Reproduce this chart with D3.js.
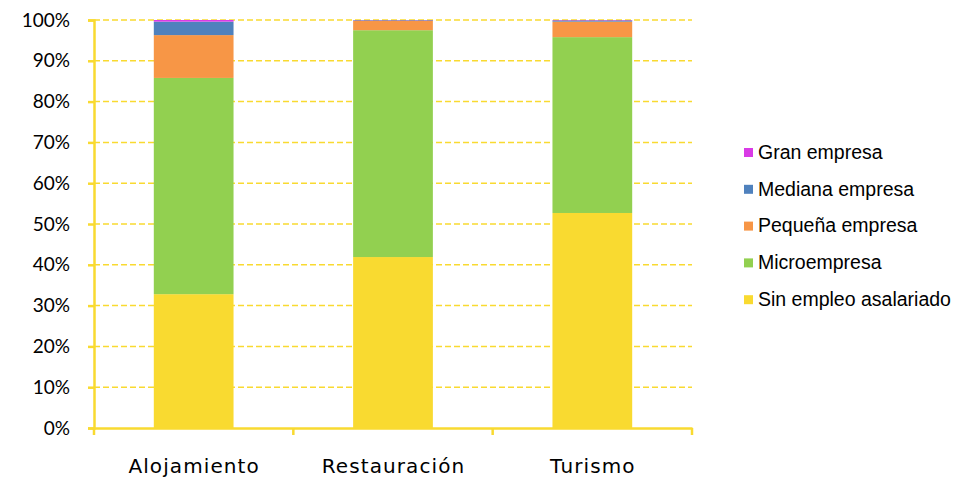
<!DOCTYPE html>
<meta charset="utf-8">
<script src="https://d3js.org/d3.v7.min.js"></script>
<style>
body { margin: 0; background: #fff; }
.tick text { font-family: Lato, "Open Sans", sans-serif; }
</style>
<div id="chart"></div>
<script>

// data (percent shares)
var categories = ["Alojamiento", "Restauración", "Turismo"];
var seriesNames = ["Sin empleo asalariado", "Microempresa", "Pequeña empresa", "Mediana empresa", "Gran empresa"];
var sinEmpleo   = [32.8, 41.9, 52.7];
var micro       = [53.0, 55.6, 43.1];
var pequena     = [10.5, 2.3, 3.8];
var mediana     = [3.3, 0.15, 0.3];
var gran        = [0.4, 0.05, 0.1];
var colors = ["#F9DA30", "#92D050", "#F79646", "#4F81BD", "#D93BE6"];
var yTicks = [0, 10, 20, 30, 40, 50, 60, 70, 80, 90, 100];

var seriesValues = [sinEmpleo, micro, pequena, mediana, gran];

var margin = {top: 20, right: 267, bottom: 49, left: 94},
    width = 959 - margin.left - margin.right,
    height = 477 - margin.top - margin.bottom;

var svg = d3.select("#chart")
  .append("svg")
    .attr("width", 959)
    .attr("height", 477)
  .append("g")
    .attr("transform", "translate(" + margin.left + "," + margin.top + ")");

var x = d3.scaleBand()
  .domain(categories)
  .range([0, width])
  .paddingInner(0.6)
  .paddingOuter(0.3);

var xOuter = d3.scaleBand().domain(categories).range([0, width]);

var y = d3.scaleLinear()
  .domain([0, 100])
  .range([height, 0]);

// gridlines
svg.append("g")
  .selectAll("line")
  .data(yTicks.filter(function(d){ return d > 0; }))
  .enter()
  .append("line")
    .attr("x1", 0)
    .attr("x2", width)
    .attr("y1", function(d){ return y(d); })
    .attr("y2", function(d){ return y(d); })
    .attr("stroke", "#F9DA30")
    .attr("stroke-width", 1.5)
    .attr("stroke-dasharray", "6,3");

// stack the rows
var rows = categories.map(function(c, i) {
  var r = {cat: c};
  seriesNames.forEach(function(s, j) { r[s] = seriesValues[j][i]; });
  return r;
});
var stacked = d3.stack().keys(seriesNames)(rows);

svg.append("g")
  .selectAll("g")
  .data(stacked)
  .enter()
  .append("g")
    .attr("fill", function(d, i){ return colors[i]; })
  .selectAll("rect")
  .data(function(d){ return d; })
  .enter()
  .append("rect")
    .attr("x", function(d){ return x(d.data.cat); })
    .attr("width", x.bandwidth())
    .attr("y", function(d){ return y(d[1]); })
    .attr("height", function(d){ return y(d[0]) - y(d[1]); });

// Y axis
var yAxis = svg.append("g")
  .call(d3.axisLeft(y).tickValues(yTicks).tickFormat(function(d){ return d + "%"; }).tickSize(6).tickPadding(18));
yAxis.select(".domain").attr("stroke", "#F9DA30").attr("stroke-width", 2.5);
yAxis.selectAll(".tick line").attr("stroke", "#F9DA30").attr("stroke-width", 2.5);
yAxis.selectAll(".tick text").attr("font-size", 19).attr("fill", "#000");

// X axis
var xAxis = svg.append("g")
  .attr("transform", "translate(0," + height + ")")
  .call(d3.axisBottom(xOuter).tickSize(0).tickPadding(31));
xAxis.select(".domain").attr("stroke", "#F9DA30").attr("stroke-width", 2.5);
xAxis.selectAll(".tick text")
  .style("font-family", "'DejaVu Sans', sans-serif")
  .attr("font-size", 20)
  .attr("fill", "#000")
  .attr("letter-spacing", "1.1px")
  .attr("dx", "0.5px");

// category boundary ticks
svg.append("g")
  .selectAll("line")
  .data(categories.concat(["end"]))
  .enter()
  .append("line")
    .attr("x1", function(d, i){ return i * xOuter.step(); })
    .attr("x2", function(d, i){ return i * xOuter.step(); })
    .attr("y1", height)
    .attr("y2", height + 7)
    .attr("stroke", "#F9DA30")
    .attr("stroke-width", 2.5);

// legend (reversed order, top = Gran empresa)
var legend = svg.append("g")
  .attr("transform", "translate(" + (width + 52) + "," + 132 + ")");
var legendItems = seriesNames.slice().reverse();
var legendColors = colors.slice().reverse();
var lg = legend.selectAll("g")
  .data(legendItems)
  .enter()
  .append("g")
    .attr("transform", function(d, i){ return "translate(0," + (i * 36.8) + ")"; });
lg.append("rect")
  .attr("x", 0)
  .attr("y", -4)
  .attr("width", 9)
  .attr("height", 9)
  .attr("fill", function(d, i){ return legendColors[i]; });
lg.append("text")
  .attr("x", 14)
  .attr("y", 0)
  .attr("dy", "0.35em")
  .attr("font-family", "'Liberation Sans', Arial, sans-serif")
  .attr("font-size", 19.5)
  .attr("fill", "#000")
  .text(function(d){ return d; });

</script>
